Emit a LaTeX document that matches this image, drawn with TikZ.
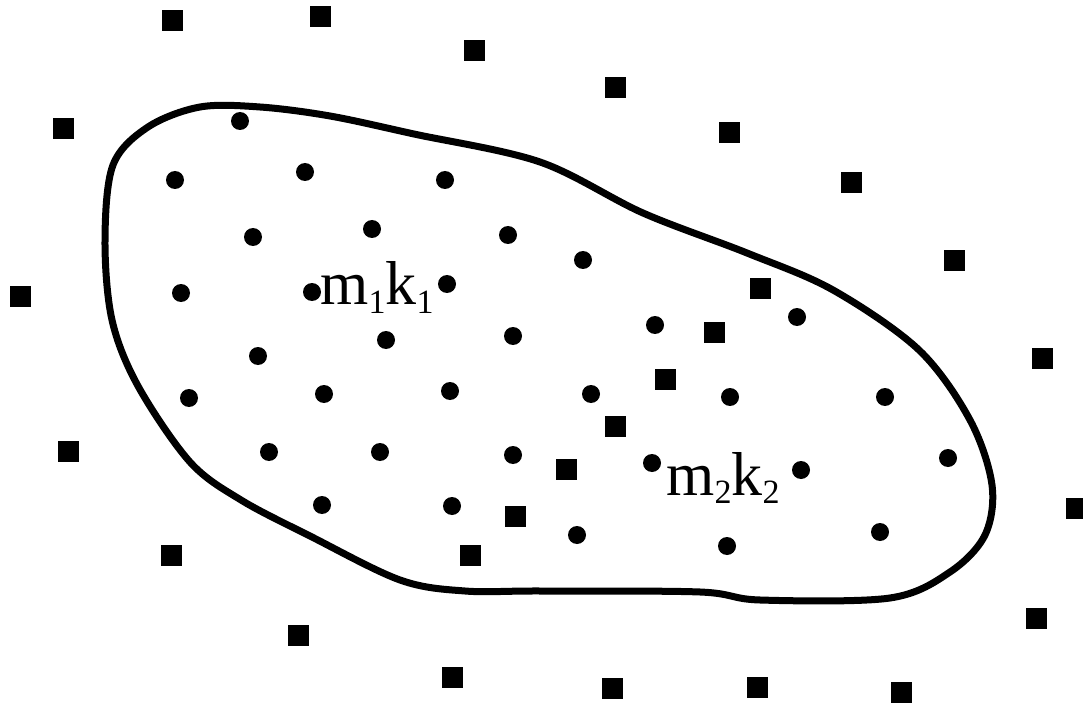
\documentclass[tikz,border=0pt]{standalone}
\usepackage{fontspec}
\setmainfont{Liberation Serif}
\usepackage{tikz}
\usetikzlibrary{positioning}

\newcommand{\lowsub}[1]{\raisebox{-0.3ex}{\fontsize{17}{17}\selectfont #1}}

\tikzset{
  outpoint/.style={rectangle, fill=black, minimum size=10.5pt, inner sep=0pt},
  inpoint/.style={circle, fill=black, minimum size=9pt, inner sep=0pt},
  clusterline/.style={line width=3.5pt, line join=round},
  centrelabel/.style={inner sep=0pt, anchor=base west, font=\fontsize{31}{34}\selectfont}
}

\begin{document}
\begin{tikzpicture}[x=0.5pt, y=-0.5pt]
  \useasboundingbox (0,0) rectangle (1083,706);

  % the cluster outline
  \draw[clusterline] plot[smooth cycle, tension=0.55] coordinates {
    (105,240) (113,165) (148,127) (200,107) (260,107) (330,116) (414,134)
    (540,162) (643,213) (747,253) (833,290) (919,350) (970,420) (992,485)
    (985,535) (950,572) (890,598) (760,600) (700,592) (540,591) (465,591)
    (400,580) (310,536) (241,500) (190,462) (138,386) (112,320)};

  % points outside the cluster
  \foreach \px/\py [count=\i] in {172/21, 320/17, 474/51, 615/88, 729/133,
      851/183, 954/261, 63/129, 20/296, 760/288, 714/332, 665/379, 615/426,
      566/469, 515/516, 1042/358, 68/451, 1076/508, 171/555, 470/555,
      298/635, 1036/618, 452/677, 612/688, 757/687, 901/692}
    \node[outpoint] (sq\i) at (\px,\py) {};

  % points inside the cluster
  \foreach \px/\py [count=\i] in {240/121, 175/180, 305/172, 445/180,
      253/237, 372/229, 508/235, 583/260, 181/293, 386/340, 513/336,
      655/325, 797/317, 258/356, 189/398, 324/394, 450/391, 591/394,
      730/397, 885/397, 269/452, 380/452, 513/455, 948/458, 322/505,
      452/506, 577/535, 727/546, 880/532}
    \node[inpoint] (pt\i) at (\px,\py) {};

  % the two centres
  \node[inpoint] (c1l) at (312,292) {};
  \node[centrelabel] (lab1) at (320,305) {m\lowsub{1}k\lowsub{1}};
  \node[inpoint] (c1r) at (447,284) {};

  \node[inpoint] (c2l) at (652,463) {};
  \node[centrelabel] (lab2) at (666,495) {m\lowsub{2}k\lowsub{2}};
  \node[inpoint] (c2r) at (801,470) {};
\end{tikzpicture}
\end{document}
